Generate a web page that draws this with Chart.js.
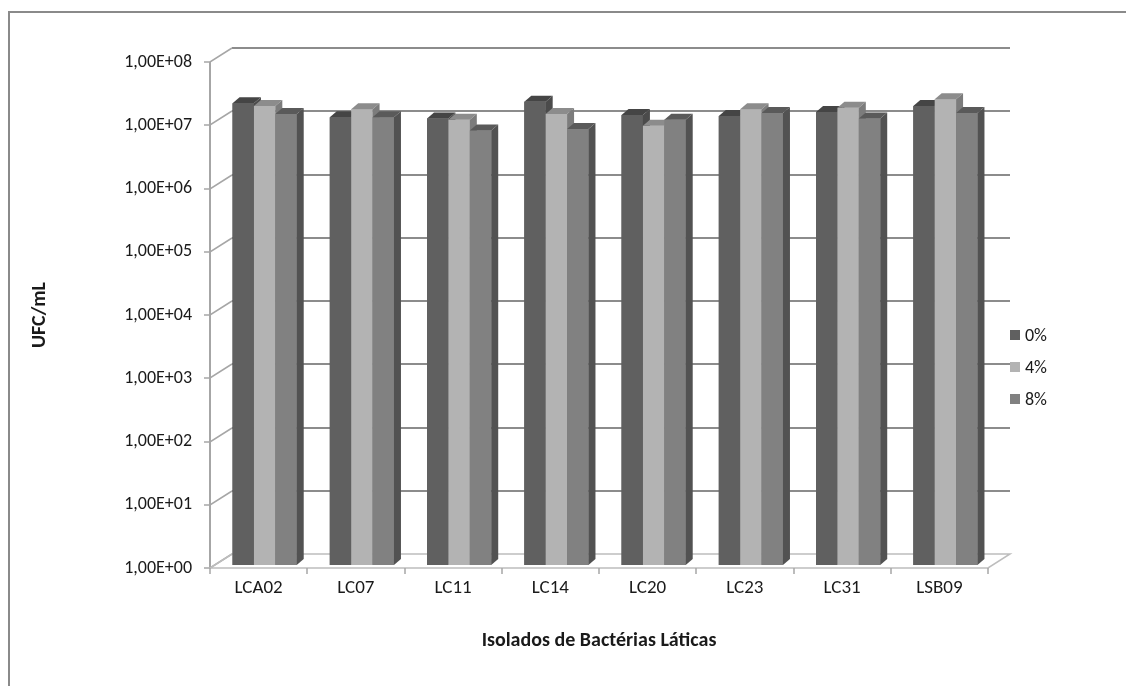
<!DOCTYPE html>
<html>
<head>
<meta charset="utf-8">
<script src="https://cdn.jsdelivr.net/npm/chart.js@4.4.1/dist/chart.umd.min.js"></script>
<style>
  html, body { margin: 0; padding: 0; background: #ffffff; }
  canvas { display: block; }
</style>
</head>
<body>
<canvas id="chart" width="1126" height="686"></canvas>
<script>
// Bacterial isolates and colony counts (UFC/mL) at each salt concentration
const categories = ['LCA02', 'LC07', 'LC11', 'LC14', 'LC20', 'LC23', 'LC31', 'LSB09'];
const seriesNames = ['0%', '4%', '8%'];
const ufc0 = [2.0e7, 1.2e7, 1.15e7, 2.1e7, 1.3e7, 1.25e7, 1.45e7, 1.8e7];
const ufc4 = [1.8e7, 1.6e7, 1.1e7, 1.35e7, 8.8e6, 1.6e7, 1.7e7, 2.3e7];
const ufc8 = [1.35e7, 1.2e7, 7.4e6, 7.8e6, 1.1e7, 1.4e7, 1.15e7, 1.4e7];
const yTickValues = [1e0, 1e1, 1e2, 1e3, 1e4, 1e5, 1e6, 1e7, 1e8];
const yTickLabels = ['1,00E+00', '1,00E+01', '1,00E+02', '1,00E+03', '1,00E+04',
                     '1,00E+05', '1,00E+06', '1,00E+07', '1,00E+08'];
const xTitle = 'Isolados de Bactérias Láticas';
const yTitle = 'UFC/mL';

const FONT = 'Carlito, Lato, "Liberation Sans", sans-serif';

// face colours per series: front, top, side
const faces = [
  { front: '#606060', top: '#454545', side: '#4b4b4b' },
  { front: '#b3b3b3', top: '#8c8c8c', side: '#7c7c7c' },
  { front: '#818181', top: '#5a5a5a', side: '#525252' }
];

// depth of the back wall and of each column
const WALL = { dx: 22, dy: -14 };
const BAR_SHIFT = { dx: 6, dy: -3 };
const BAR_DEPTH = { dx: 7, dy: -6 };

function drawColumn(ctx, el, c) {
  const p = el.getProps(['x', 'y', 'base', 'width'], true);
  const l = p.x - p.width / 2;
  const r = p.x + p.width / 2;
  el.draw(ctx);
  ctx.fillStyle = c.top;
  ctx.beginPath();
  ctx.moveTo(l, p.y);
  ctx.lineTo(r, p.y);
  ctx.lineTo(r + BAR_DEPTH.dx, p.y + BAR_DEPTH.dy);
  ctx.lineTo(l + BAR_DEPTH.dx, p.y + BAR_DEPTH.dy);
  ctx.closePath();
  ctx.fill();
  ctx.fillStyle = c.side;
  ctx.beginPath();
  ctx.moveTo(r, p.y);
  ctx.lineTo(r + BAR_DEPTH.dx, p.y + BAR_DEPTH.dy);
  ctx.lineTo(r + BAR_DEPTH.dx, p.base + BAR_DEPTH.dy);
  ctx.lineTo(r, p.base);
  ctx.closePath();
  ctx.fill();
}

const pseudo3d = {
  id: 'pseudo3d',
  beforeDraw(chart) {
    const ctx = chart.ctx;
    ctx.save();
    ctx.fillStyle = '#ffffff';
    ctx.fillRect(0, 0, chart.width, chart.height);
    ctx.strokeStyle = '#8a8a8a';
    ctx.lineWidth = 2;
    ctx.strokeRect(9, 12, chart.width + 20, chart.height + 20);
    ctx.restore();
  },
  beforeDatasetsDraw(chart) {
    const ctx = chart.ctx;
    const { left, right, bottom } = chart.chartArea;
    const y = chart.scales.y;
    ctx.save();
    // back wall gridlines and left wall connectors
    yTickValues.forEach((v, i) => {
      const py = Math.round(y.getPixelForValue(v));
      if (i > 0) {
        ctx.strokeStyle = '#8c8c8c';
        ctx.lineWidth = 2;
        ctx.beginPath();
        ctx.moveTo(left + WALL.dx, py + WALL.dy);
        ctx.lineTo(right + WALL.dx, py + WALL.dy);
        ctx.stroke();
      }
      ctx.strokeStyle = '#a6a6a6';
      ctx.lineWidth = 1.5;
      ctx.beginPath();
      ctx.moveTo(left - 6, py);
      ctx.lineTo(left, py);
      ctx.lineTo(left + WALL.dx, py + WALL.dy);
      ctx.stroke();
    });
    // left axis
    ctx.strokeStyle = '#a6a6a6';
    ctx.lineWidth = 2;
    ctx.beginPath();
    ctx.moveTo(left, Math.round(y.getPixelForValue(1e8)));
    ctx.lineTo(left, bottom);
    ctx.stroke();
    // floor
    ctx.strokeStyle = '#bdbdbd';
    ctx.lineWidth = 1.5;
    ctx.beginPath();
    ctx.moveTo(left, bottom);
    ctx.lineTo(right, bottom);
    ctx.lineTo(right + WALL.dx, bottom + WALL.dy);
    ctx.lineTo(left + WALL.dx, bottom + WALL.dy);
    ctx.closePath();
    ctx.stroke();
    // category boundary ticks
    const step = (right - left) / categories.length;
    ctx.strokeStyle = '#a6a6a6';
    for (let k = 0; k <= categories.length; k++) {
      const px = Math.round(left + k * step);
      ctx.beginPath();
      ctx.moveTo(px, bottom);
      ctx.lineTo(px, bottom + 6);
      ctx.stroke();
    }
    ctx.restore();
    // columns sit slightly inside the floor
    ctx.save();
    ctx.translate(BAR_SHIFT.dx, BAR_SHIFT.dy);
  },
  afterDatasetsDraw(chart) {
    const ctx = chart.ctx;
    // redraw each column left to right so every side face is hidden by its neighbour
    const metas = chart.data.datasets.map((d, i) => chart.getDatasetMeta(i));
    categories.forEach((cat, j) => {
      metas.forEach((meta, i) => drawColumn(ctx, meta.data[j], faces[i]));
    });
    ctx.restore();
    // legend
    ctx.save();
    const rows = [335, 367, 399];
    ctx.font = '18px ' + FONT;
    ctx.textBaseline = 'middle';
    ctx.textAlign = 'left';
    seriesNames.forEach((name, i) => {
      ctx.fillStyle = faces[i].front;
      ctx.fillRect(1010, rows[i] - 5, 10, 10);
      ctx.fillStyle = '#1a1a1a';
      ctx.fillText(name, 1025, rows[i] + 1);
    });
    ctx.restore();
  }
};

const datasets = [ufc0, ufc4, ufc8].map((vals, i) => ({
  label: seriesNames[i],
  data: vals,
  backgroundColor: faces[i].front,
  borderWidth: 0,
  clip: false,
  categoryPercentage: 0.66,
  barPercentage: 1.0
}));

new Chart(document.getElementById('chart'), {
  type: 'bar',
  data: { labels: categories, datasets },
  plugins: [pseudo3d],
  options: {
    responsive: false,
    animation: false,
    devicePixelRatio: 1,
    layout: { padding: { left: 0, right: 138, top: 62, bottom: 0 } },
    plugins: { legend: { display: false }, tooltip: { enabled: false } },
    scales: {
      x: {
        type: 'category',
        offset: true,
        grid: { display: false, drawTicks: false },
        border: { display: false },
        ticks: { padding: 9, color: '#1a1a1a', font: { family: FONT, size: 19 } },
        title: {
          display: true, text: xTitle, color: '#1a1a1a',
          font: { family: FONT, size: 20, weight: 'bold' },
          padding: { top: 0, bottom: 33 }
        },
        afterFit(s) { s.height = 118; }
      },
      y: {
        type: 'logarithmic',
        min: 1, max: 1e8,
        grid: { display: false, drawTicks: false },
        border: { display: false },
        afterBuildTicks(s) { s.ticks = yTickValues.map(v => ({ value: v })); },
        ticks: {
          padding: 18, color: '#1a1a1a',
          font: { family: FONT, size: 18 },
          callback: (v, i) => yTickLabels[i]
        },
        title: {
          display: true, text: yTitle, color: '#1a1a1a',
          font: { family: FONT, size: 20, weight: 'bold' },
          padding: { top: 28, bottom: 0 }
        },
        afterFit(s) { s.width = 210; }
      }
    }
  }
});
</script>
</body>
</html>
